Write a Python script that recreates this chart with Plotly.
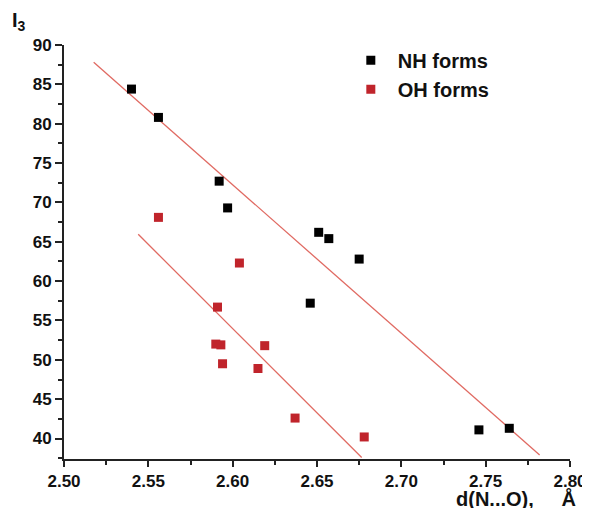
import plotly.graph_objects as go

# NH forms (black)
nh_x = [2.540, 2.556, 2.592, 2.597, 2.651, 2.657, 2.675, 2.646, 2.746, 2.764]
nh_y = [84.4, 80.8, 72.7, 69.3, 66.2, 65.4, 62.8, 57.2, 41.1, 41.3]
# OH forms (red)
oh_x = [2.556, 2.604, 2.591, 2.590, 2.593, 2.594, 2.619, 2.615, 2.637, 2.678]
oh_y = [68.1, 62.3, 56.7, 52.0, 51.9, 49.5, 51.8, 48.9, 42.6, 40.2]
# fitted lines (endpoints)
nh_fit_x = [2.5176, 2.782]
nh_fit_y = [87.8, 37.9]
oh_fit_x = [2.544, 2.6765]
oh_fit_y = [65.95, 37.6]

x_ticks = [2.50, 2.55, 2.60, 2.65, 2.70, 2.75, 2.80]
y_ticks = [40, 45, 50, 55, 60, 65, 70, 75, 80, 85, 90]
x_minor = [2.525, 2.575, 2.625, 2.675, 2.725, 2.775]
y_minor = [37.5, 42.5, 47.5, 52.5, 57.5, 62.5, 67.5, 72.5, 77.5, 82.5, 87.5]

FONT = "Liberation Sans, Arial, sans-serif"
LINE_COLOR = "#e06a62"
RED = "#c0242b"

# the page body has an 8px default margin; compensate so the figure fills 590x510
OFF = 8

fig = go.Figure()
fig.add_trace(go.Scatter(x=nh_fit_x, y=nh_fit_y, mode="lines",
                         line=dict(color=LINE_COLOR, width=1.3), showlegend=False,
                         hoverinfo="skip"))
fig.add_trace(go.Scatter(x=oh_fit_x, y=oh_fit_y, mode="lines",
                         line=dict(color=LINE_COLOR, width=1.3), showlegend=False,
                         hoverinfo="skip"))
fig.add_trace(go.Scatter(x=nh_x, y=nh_y, mode="markers", name="NH forms",
                         marker=dict(symbol="square", size=9, color="black")))
fig.add_trace(go.Scatter(x=oh_x, y=oh_y, mode="markers", name="OH forms",
                         marker=dict(symbol="square", size=9, color=RED)))

axis_common = dict(
    showgrid=False, zeroline=False, showline=True, linecolor="#222222", linewidth=2,
    ticks="outside", tickcolor="#222222", tickwidth=1.5,
    tickfont=dict(family=FONT, size=17, color="#111111", weight="bold"),
    automargin=False,
)

fig.update_layout(
    width=590 - OFF, height=510 - OFF,
    paper_bgcolor="white", plot_bgcolor="white",
    margin=dict(l=64 - OFF, r=20, t=45 - OFF, b=51, autoexpand=False),
    xaxis=dict(range=[2.50, 2.80], tickvals=x_ticks, ticklen=6,
               ticktext=[f"{v:.2f}" for v in x_ticks],
               minor=dict(ticks="outside", ticklen=4, tickcolor="#222222", tickwidth=1.5,
                          tickvals=x_minor),
               **axis_common),
    yaxis=dict(range=[37.4, 90], tickvals=y_ticks, ticklen=7,
               ticktext=[str(v) for v in y_ticks],
               minor=dict(ticks="outside", ticklen=4, tickcolor="#222222", tickwidth=1.5,
                          tickvals=y_minor),
               **axis_common),
    legend=dict(x=0.553, y=1.01, xanchor="left", yanchor="top",
                font=dict(family=FONT, size=20, color="#111111", weight="bold"),
                bgcolor="rgba(0,0,0,0)", tracegroupgap=0, itemwidth=44),
    showlegend=True,
    annotations=[
        dict(text="I<sub>3</sub>", xref="paper", yref="paper",
             x=-0.106, y=1.0 + (45 - 36.4) / 414, xanchor="left", yanchor="bottom",
             showarrow=False,
             font=dict(family=FONT, size=20, color="#111111", weight="bold")),
        dict(text="d(N...O),&nbsp;&nbsp;&nbsp;&nbsp;&nbsp;Å", xref="paper", yref="paper",
             x=1.016, y=-0.123, xanchor="right", yanchor="bottom", showarrow=False,
             height=20, valign="middle",
             font=dict(family=FONT, size=20, color="#111111", weight="bold")),
    ],
)

fig.write_html("out.html")
